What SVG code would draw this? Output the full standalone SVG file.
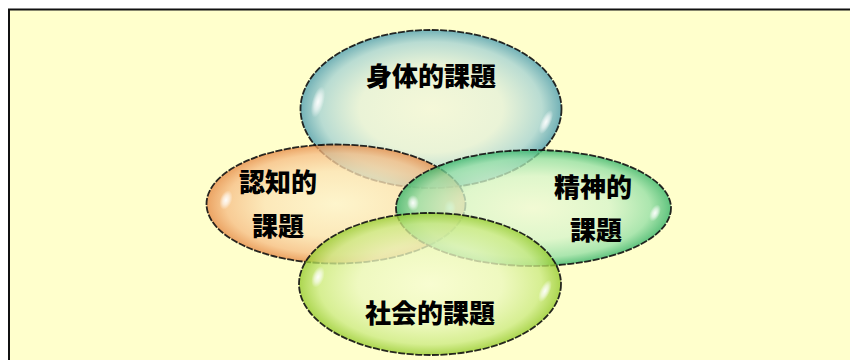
<svg xmlns="http://www.w3.org/2000/svg" width="850" height="360" viewBox="0 0 850 360">
  <style>
    .lbl { font-family: "Noto Sans CJK JP", "Noto Sans CJK SC", sans-serif; font-size: 26px; font-weight: 900; fill: #000; text-anchor: middle; }
    .bubble { stroke: #111; stroke-width: 1.8; stroke-dasharray: 7 1.5; fill-opacity: 0.78; stroke-opacity: 0.9; }
    .hl { fill: url(#hl); }
  </style>
  <defs>
    <radialGradient id="gBlue" cx="0.5" cy="0.5" r="0.5">
      <stop offset="0" stop-color="#f2f6dc"/>
      <stop offset="0.55" stop-color="#e4f0da"/>
      <stop offset="0.85" stop-color="#a5d2d4"/>
      <stop offset="1" stop-color="#4a9bb0"/>
    </radialGradient>
    <radialGradient id="gOrange" cx="0.5" cy="0.5" r="0.5">
      <stop offset="0" stop-color="#fdf2cc"/>
      <stop offset="0.55" stop-color="#fbe2b4"/>
      <stop offset="0.85" stop-color="#f6bd86"/>
      <stop offset="1" stop-color="#e58945"/>
    </radialGradient>
    <radialGradient id="gGreen" cx="0.5" cy="0.5" r="0.5">
      <stop offset="0" stop-color="#eef9d6"/>
      <stop offset="0.55" stop-color="#d6f4cb"/>
      <stop offset="0.85" stop-color="#94dfa6"/>
      <stop offset="1" stop-color="#33b268"/>
    </radialGradient>
    <radialGradient id="gLime" cx="0.5" cy="0.5" r="0.5">
      <stop offset="0" stop-color="#f6fcd2"/>
      <stop offset="0.55" stop-color="#eaf7bc"/>
      <stop offset="0.85" stop-color="#cbea82"/>
      <stop offset="1" stop-color="#94ca2c"/>
    </radialGradient>
    <radialGradient id="hl" cx="0.5" cy="0.5" r="0.5">
      <stop offset="0" stop-color="#ffffff" stop-opacity="0.95"/>
      <stop offset="0.5" stop-color="#ffffff" stop-opacity="0.6"/>
      <stop offset="1" stop-color="#ffffff" stop-opacity="0"/>
    </radialGradient>
  </defs>

  <rect x="0" y="0" width="850" height="360" fill="#ffffff"/>
  <rect id="frame" x="9" y="9.5" width="900" height="400" fill="#ffffcc" stroke="#111" stroke-width="2"/>

  <g id="physical">
    <ellipse class="bubble" cx="431" cy="109" rx="130.5" ry="79" fill="url(#gBlue)"/>
    <ellipse class="hl" cx="318" cy="102" rx="6" ry="16" transform="rotate(15 318 102)"/>
    <ellipse class="hl" cx="546" cy="122" rx="5" ry="13" transform="rotate(25 546 122)"/>
  </g>
  <g id="cognitive">
    <ellipse class="bubble" cx="336" cy="204" rx="129.5" ry="59.5" fill="url(#gOrange)"/>
    <ellipse class="hl" cx="226" cy="200" rx="6" ry="10" transform="rotate(20 226 200)"/>
    <ellipse class="hl" cx="450" cy="208" rx="6" ry="8"/>
  </g>
  <g id="mental">
    <ellipse class="bubble" cx="533.5" cy="208" rx="137.5" ry="58" fill="url(#gGreen)"/>
    <ellipse class="hl" cx="413" cy="203" rx="6" ry="8"/>
    <ellipse class="hl" cx="655" cy="213" rx="5" ry="9" transform="rotate(25 655 213)"/>
  </g>
  <g id="social">
    <ellipse class="bubble" cx="430" cy="284" rx="131" ry="71" fill="url(#gLime)"/>
    <ellipse class="hl" cx="318" cy="277" rx="6" ry="11" transform="rotate(20 318 277)"/>
    <ellipse class="hl" cx="545" cy="291" rx="5" ry="12" transform="rotate(25 545 291)"/>
  </g>

  <g id="labels">
    <text class="lbl" x="431" y="86">身体的課題</text>
    <text class="lbl" x="278" y="192">認知的</text>
    <text class="lbl" x="278" y="236">課題</text>
    <text class="lbl" x="593" y="197">精神的</text>
    <text class="lbl" x="596" y="240">課題</text>
    <text class="lbl" x="430" y="323">社会的課題</text>
  </g>
  <g id="connectors"></g>
</svg>
